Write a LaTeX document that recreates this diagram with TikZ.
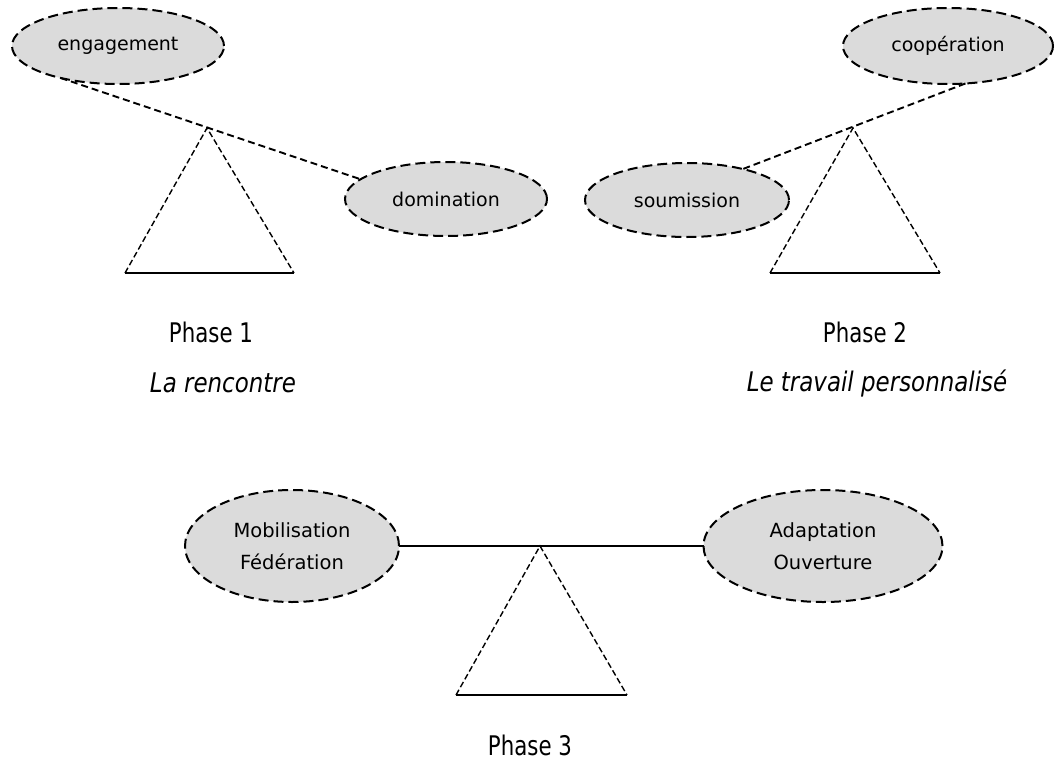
\documentclass[tikz,border=0pt]{standalone}
\usepackage{fontspec}
\usepackage{graphicx}
\setmainfont{DejaVu Sans}
\usetikzlibrary{shapes.geometric}
% condensed captions under each balance
\newcommand{\phasecaption}[1]{\scalebox{0.79}[1]{#1}}
\newcommand{\phasemotto}[1]{\scalebox{0.85}[1]{\itshape #1}}
\begin{document}
\begin{tikzpicture}[x=1pt,y=-1pt,
  pole/.style={ellipse,draw,fill=black!14,line width=2pt,
    dash pattern=on 10pt off 5pt,inner sep=0pt,outer sep=0pt,
    font=\fontsize{19}{32}\selectfont,align=center},
  lever/.style={line width=1.9pt,dash pattern=on 7pt off 4pt},
  support/.style={line width=1.4pt,dash pattern=on 6pt off 3pt},
  ground/.style={line width=2.4pt},
  beam/.style={line width=2.4pt},
  caption/.style={anchor=base,inner sep=0pt,font=\fontsize{27}{30}\selectfont}]
\useasboundingbox (0,0) rectangle (1057,760);

% Phase 1: balance tipped towards the left pole
\node[pole,minimum width=212pt,minimum height=76pt] (eng) at (118,46) {engagement};
\node[pole,minimum width=202pt,minimum height=74pt] (dom) at (446,199) {domination};
\coordinate (a1) at (207,128);
\coordinate (l1) at (125,273);
\coordinate (r1) at (294,273);
\draw[support] (l1) -- (a1) -- (r1);
\draw[ground] (l1) -- (r1);
\draw[lever] (eng.209) -- (dom.167);
\node[caption] (ph1) at (211,342) {\phasecaption{Phase 1}};
\node[caption] (rc1) at (223,392) {\phasemotto{La rencontre}};

% Phase 2: balance tipped towards the right pole
\node[pole,minimum width=210pt,minimum height=76pt] (coo) at (948,46) {coopération};
\node[pole,minimum width=204pt,minimum height=74pt] (sou) at (687,200) {soumission};
\coordinate (a2) at (853,128);
\coordinate (l2) at (770,273);
\coordinate (r2) at (940,273);
\draw[support] (l2) -- (a2) -- (r2);
\draw[ground] (l2) -- (r2);
\draw[lever] (coo.295) -- (sou.29);
\node[caption] (ph2) at (865,342) {\phasecaption{Phase 2}};
\node[caption] (rc2) at (877,391) {\phasemotto{Le travail personnalisé}};

% Phase 3: balance in equilibrium
\node[pole,minimum width=214pt,minimum height=112pt,font=\fontsize{19.5}{32}\selectfont] (mob) at (292,546) {Mobilisation\\Fédération};
\node[pole,minimum width=239pt,minimum height=112pt,font=\fontsize{19.5}{32}\selectfont] (ada) at (823,546) {Adaptation\\Ouverture};
\coordinate (a3) at (540,546);
\coordinate (l3) at (456,695);
\coordinate (r3) at (627,695);
\draw[support] (l3) -- (a3) -- (r3);
\draw[ground] (l3) -- (r3);
\draw[beam] (mob.east) -- (ada.west);
\node[caption] (ph3) at (530,755) {\phasecaption{Phase 3}};
\end{tikzpicture}
\end{document}
